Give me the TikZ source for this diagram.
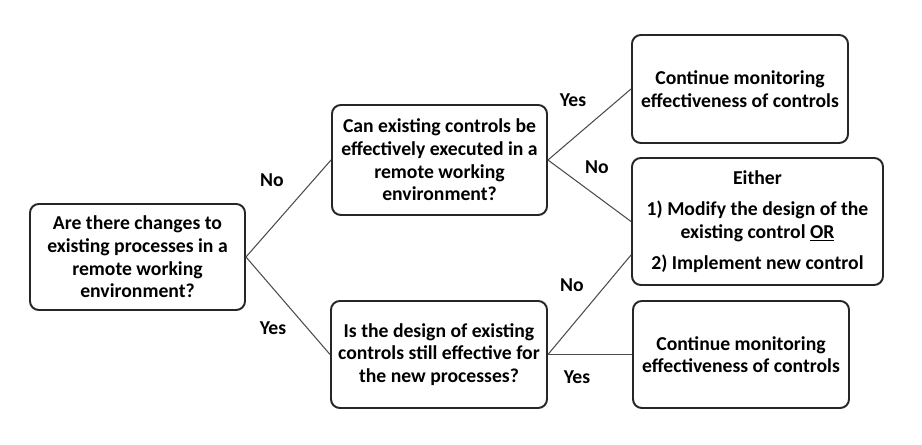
\documentclass[tikz,border=0pt]{standalone}
\usepackage{fontspec}
\setmainfont{Carlito}
\usetikzlibrary{calc}

\begin{document}
\begin{tikzpicture}[line join=round,
    qbox/.style={draw=black!85,line width=1.1pt,rounded corners=5pt,align=center,
      font=\fontsize{11.2}{12.9}\selectfont\bfseries,inner sep=2pt},
    link/.style={draw=black!70,line width=0.6pt},
    lbl/.style={font=\fontsize{11.2}{13}\selectfont\bfseries}]
  \useasboundingbox (0,0) rectangle (18.44,8.9);

  \node[qbox,minimum width=4.3cm,minimum height=2.12cm] (start) at (2.75,3.76)
    {Are there changes to\\existing processes in a\\remote working\\environment?};
  \node[qbox,minimum width=4.3cm,minimum height=2.2cm] (execQ) at (8.79,5.70)
    {Can existing controls be\\effectively executed in a\\remote working\\environment?};
  \node[qbox,minimum width=4.32cm,minimum height=2.14cm] (designQ) at (8.78,1.81)
    {Is the design of existing\\controls still effective for\\the new processes?};
  \node[qbox,minimum width=4.32cm,minimum height=2.16cm] (monTop) at (14.8,7.12)
    {Continue monitoring\\effectiveness of controls};
  \node[qbox,minimum width=5.02cm,minimum height=2.54cm] (either) at (15.15,4.47)
    {Either\\[5pt]1) Modify the design of the\\existing control \underline{OR}\\[5pt]2) Implement new control};
  \node[qbox,minimum width=4.32cm,minimum height=2.14cm] (monBot) at (14.82,1.81)
    {Continue monitoring\\effectiveness of controls};

  \coordinate (eitherLow) at ($(either.west)+(0,-0.67)$);

  \draw[link] (start.east) -- (execQ.west);
  \draw[link] (start.east) -- (designQ.west);
  \draw[link] (execQ.east) -- (monTop.west);
  \draw[link] (execQ.east) -- (either.west);
  \draw[link] (designQ.east) -- (eitherLow);
  \draw[link] (designQ.east) -- (monBot.west);

  \node[lbl] (noA) at (5.44,5.3) {No};
  \node[lbl] (yesA) at (5.46,2.34) {Yes};
  \node[lbl] (yesB) at (11.46,6.9) {Yes};
  \node[lbl] (noB) at (11.94,5.56) {No};
  \node[lbl] (noC) at (11.44,3.2) {No};
  \node[lbl] (yesC) at (11.54,1.36) {Yes};
\end{tikzpicture}
\end{document}
